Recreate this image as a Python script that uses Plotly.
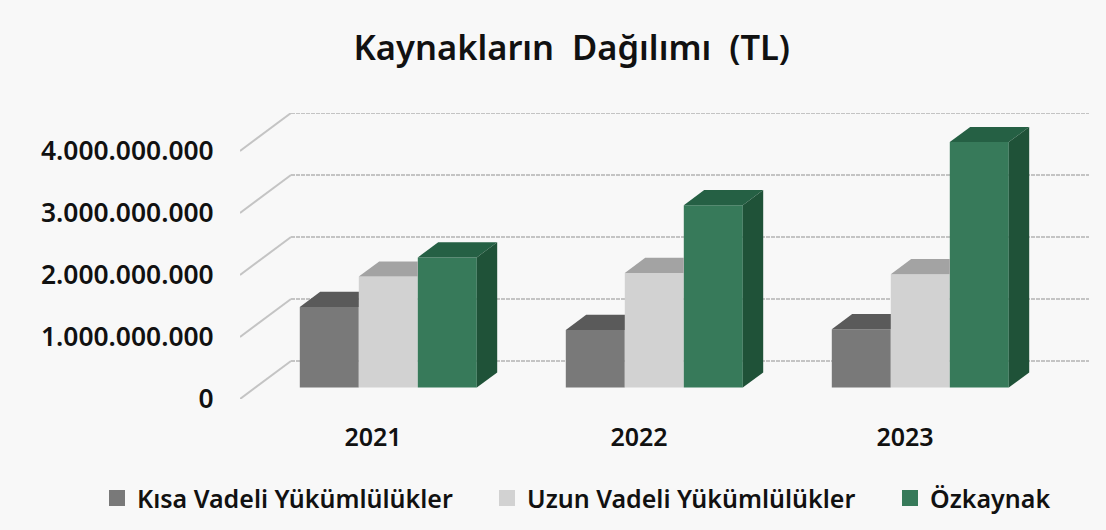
import plotly.graph_objects as go

categories = ["2021", "2022", "2023"]
series_names = ["Kısa Vadeli Yükümlülükler", "Uzun Vadeli Yükümlülükler", "Özkaynak"]
kisa_vadeli = [1300000000, 930000000, 940000000]
uzun_vadeli = [1790000000, 1850000000, 1830000000]
ozkaynak = [2100000000, 2940000000, 3960000000]
tick_values = [0, 1000000000, 2000000000, 3000000000, 4000000000]
tick_labels = ["0", "1.000.000.000", "2.000.000.000", "3.000.000.000", "4.000.000.000"]

front_colors = ["#797979", "#d2d2d2", "#377a5a"]
top_colors = ["#5a5a5a", "#a3a3a3", "#256044"]
side_color = "#1f5238"
grid_color = "#c4c4c4"
text_color = "#111111"
bg = "#f8f8f8"
font = "Noto Sans"

# oblique projection: how far the full floor depth shifts a point, in axis units
depth_x = 51 / 266
depth_y = 38 / 62 * 1e9
bar_front, bar_back = 0.3, 0.7
bar_w = 59 / 266

fig = go.Figure()
all_series = [kisa_vadeli, uzun_vadeli, ozkaynak]
n_series = len(all_series)
legend_ids = ["legend", "legend2", "legend3"]
legend_left_px = [97, 487, 890]

for s, (name, values) in enumerate(zip(series_names, all_series)):
    xs = [i + (s - (n_series - 1) / 2) * bar_w + bar_front * depth_x for i in range(len(values))]
    base = bar_front * depth_y
    fig.add_bar(
        x=xs, y=values, base=[base] * len(values), width=bar_w, name=name,
        marker=dict(color=front_colors[s], line=dict(width=0)), showlegend=False,
    )
    d_x = (bar_back - bar_front) * depth_x
    d_y = (bar_back - bar_front) * depth_y
    for x_c, v in zip(xs, values):
        x0, x1 = x_c - bar_w / 2, x_c + bar_w / 2
        top = base + v
        last = s == n_series - 1
        # the next bar hides whatever lies beyond this bar's right edge
        fig.add_scatter(
            x=[x0, x1, x1 + (d_x if last else 0), x0 + d_x, x0],
            y=[top, top, top + d_y, top + d_y, top],
            mode="lines", fill="toself", fillcolor=top_colors[s],
            line=dict(width=0), hoverinfo="skip", showlegend=False,
        )
        if last:
            fig.add_scatter(
                x=[x1, x1 + d_x, x1 + d_x, x1, x1],
                y=[base, base + d_y, top + d_y, top, base],
                mode="lines", fill="toself", fillcolor=side_color,
                line=dict(width=0), hoverinfo="skip", showlegend=False,
            )
    fig.add_scatter(
        x=[None], y=[None], mode="markers", name=name, legend=legend_ids[s],
        marker=dict(symbol="square", size=16, color=front_colors[s]),
    )

x_min, x_max = -0.5, len(categories) - 0.5
for t in tick_values:
    fig.add_shape(type="line", layer="below", xref="x", yref="y",
                  x0=x_min, y0=t, x1=x_min + depth_x, y1=t + depth_y,
                  line=dict(color=grid_color, width=2))
    fig.add_shape(type="line", layer="below", xref="x", yref="y",
                  x0=x_min + depth_x, y0=t + depth_y, x1=x_max + depth_x, y1=t + depth_y,
                  line=dict(color=grid_color, width=2, dash="4px,1px"))

legends = {
    lid: dict(orientation="h", x=left / 1106, xanchor="left", y=0.06, yanchor="middle",
              yref="container", xref="container",
              font=dict(size=25, family=font, color=text_color, weight=600),
              bgcolor="rgba(0,0,0,0)", itemclick=False)
    for lid, left in zip(legend_ids, legend_left_px)
}

fig.update_layout(
    width=1106, height=530,
    paper_bgcolor=bg, plot_bgcolor=bg,
    margin=dict(l=240, r=17, t=113, b=131, autoexpand=False),
    barmode="overlay",
    font=dict(family=font, color=text_color),
    title=dict(text="Kaynakların\u00a0 Dağılımı\u00a0 (TL)", x=0.517, xanchor="center",
               y=0.91, yanchor="middle", font=dict(size=34.5, family=font, color=text_color, weight=600)),
    xaxis=dict(range=[x_min, x_max + depth_x], tickmode="array",
               tickvals=list(range(len(categories))), ticktext=categories,
               showgrid=False, zeroline=False, showline=False,
               ticks="outside", ticklen=16, tickcolor="rgba(0,0,0,0)",
               tickfont=dict(size=25, family=font, color=text_color, weight=600)),
    yaxis=dict(range=[0, 4e9 + depth_y], tickmode="array",
               tickvals=tick_values, ticktext=tick_labels,
               showgrid=False, zeroline=False, showline=False,
               ticks="outside", ticklen=20, tickcolor="rgba(0,0,0,0)",
               tickfont=dict(size=26.4, family=font, color=text_color, weight=600)),
    **legends,
)
fig.write_html("out.html", config={"displayModeBar": False},
               post_script="document.body.style.margin='0';document.body.style.background='#f8f8f8';")
